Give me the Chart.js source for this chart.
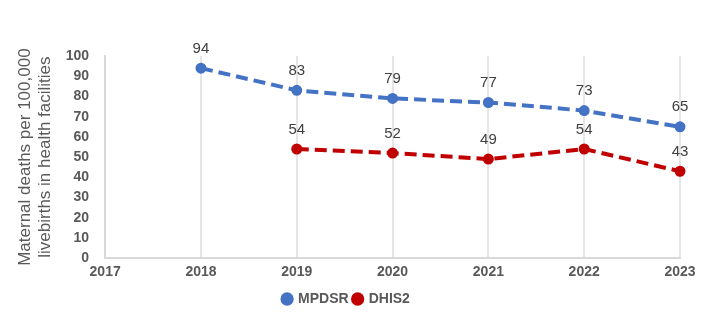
<!DOCTYPE html>
<html>
<head>
<meta charset="utf-8">
<script src="https://cdn.jsdelivr.net/npm/chart.js@4/dist/chart.umd.min.js"></script>
<style>
  html, body { margin: 0; padding: 0; background: #fff; }
  #wrap { width: 708px; height: 316px; position: relative; }
</style>
</head>
<body>
<div id="wrap"><canvas id="myChart"></canvas></div>
<script>
const years = ['2017', '2018', '2019', '2020', '2021', '2022', '2023'];
const mpdsr = [null, 94, 83, 79, 77, 73, 65];
const dhis2 = [null, null, 54, 52, 49, 54, 43];
const yTitle = ['Maternal deaths per 100,000', 'livebirths in health facilities'];

// draw the value above each point
const valueLabels = {
    id: 'valueLabels',
    afterDatasetsDraw(chart) {
        const ctx = chart.ctx;
        ctx.save();
        ctx.font = '15px "Liberation Sans", Arial, sans-serif';
        ctx.fillStyle = '#404040';
        ctx.textAlign = 'center';
        ctx.textBaseline = 'bottom';
        chart.data.datasets.forEach((ds, i) => {
            chart.getDatasetMeta(i).data.forEach((pt, j) => {
                if (ds.data[j] == null) return;
                ctx.fillText(ds.data[j], pt.x, pt.y - 12);
            });
        });
        ctx.restore();
    }
};

const tickFont = { family: '"Liberation Sans", Arial, sans-serif', size: 14, weight: 'bold' };

new Chart(document.getElementById('myChart'), {
    type: 'line',
    data: {
        labels: years,
        datasets: [{
            label: 'MPDSR',
            data: mpdsr,
            borderColor: '#4472c4',
            backgroundColor: '#4472c4',
            borderWidth: 4,
            borderDash: [12, 6],
            pointRadius: 4.5,
            pointBorderWidth: 2,
            pointHoverRadius: 4.5,
            tension: 0
        }, {
            label: 'DHIS2',
            data: dhis2,
            borderColor: '#c00000',
            backgroundColor: '#c00000',
            borderWidth: 4,
            borderDash: [12, 6],
            pointRadius: 4.5,
            pointBorderWidth: 2,
            pointHoverRadius: 4.5,
            tension: 0
        }]
    },
    options: {
        responsive: true,
        maintainAspectRatio: false,
        animation: false,
        layout: { padding: { left: 13, right: 28, top: 56, bottom: 0 } },
        plugins: {
            legend: {
                position: 'bottom',
                labels: {
                    usePointStyle: true,
                    pointStyle: 'circle',
                    boxWidth: 8,
                    boxHeight: 8,
                    padding: 5,
                    color: '#595959',
                    font: { family: '"Liberation Sans", Arial, sans-serif', size: 14, weight: 'bold' }
                }
            },
            tooltip: { enabled: false }
        },
        scales: {
            x: {
                offset: false,
                grid: { color: '#e6e6e6', lineWidth: 2, drawTicks: false },
                border: { color: '#d9d9d9', width: 2 },
                ticks: { color: '#595959', font: tickFont, padding: 6, maxRotation: 0 }
            },
            y: {
                min: 0,
                max: 100,
                grid: { display: false },
                border: { color: '#d9d9d9', width: 2 },
                ticks: { stepSize: 10, autoSkip: false, color: '#595959', font: tickFont, padding: 8 },
                title: {
                    display: true,
                    text: yTitle,
                    color: '#595959',
                    font: { family: '"Liberation Sans", Arial, sans-serif', size: 17 },
                    padding: 2
                }
            }
        }
    },
    plugins: [valueLabels]
});
</script>
</body>
</html>
